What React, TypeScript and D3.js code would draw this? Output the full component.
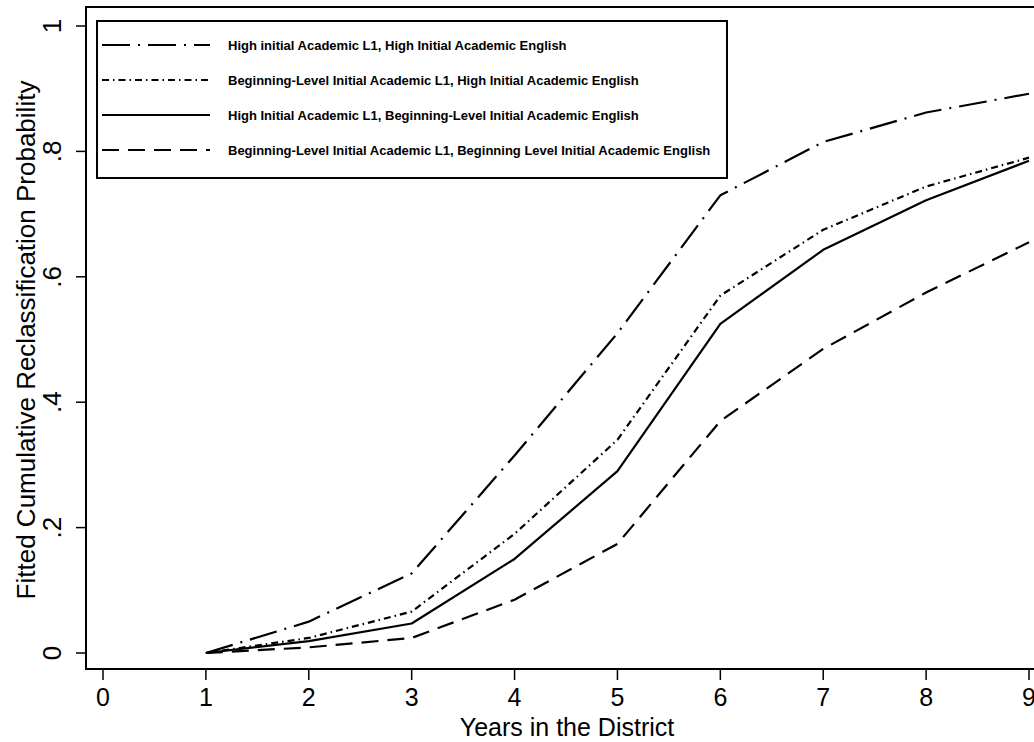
import React from 'react';
import * as d3 from 'd3';

const years = [1, 2, 3, 4, 5, 6, 7, 8, 9];
const highHigh = [0, 0.05, 0.127, 0.315, 0.51, 0.73, 0.815, 0.862, 0.892];
const begHigh = [0, 0.024, 0.066, 0.19, 0.34, 0.57, 0.675, 0.744, 0.79];
const highBeg = [0, 0.019, 0.047, 0.15, 0.29, 0.525, 0.643, 0.722, 0.785];
const begBeg = [0, 0.009, 0.024, 0.085, 0.174, 0.37, 0.485, 0.575, 0.655];

const legendLabels = [
  'High initial Academic L1, High Initial Academic English',
  'Beginning-Level Initial Academic L1, High Initial Academic English',
  'High Initial Academic L1, Beginning-Level Initial Academic English',
  'Beginning-Level Initial Academic L1, Beginning Level Initial Academic English',
];
const xTicks = [0, 1, 2, 3, 4, 5, 6, 7, 8, 9];
const yTicks = [0, 0.2, 0.4, 0.6, 0.8, 1];
const yTickLabels = ['0', '.2', '.4', '.6', '.8', '1'];

// long dash-dot, dash-dot, solid, dash
const dashes = ['28 8 2 8', '7 4 1.5 4', 'none', '17 9'];
const series = [highHigh, begHigh, highBeg, begBeg];

const W = 1034;
const H = 742;
const font = 'Liberation Sans, Arial, Helvetica, sans-serif';

export default function App() {
  const x = d3.scaleLinear().domain([0, 9]).range([103, 1029]);
  const y = d3.scaleLinear().domain([0, 1]).range([653, 26]);
  const frame = { left: 86, top: 7, right: 1045, bottom: 669 };

  const line = d3
    .line<number>()
    .x((_, i) => x(years[i]))
    .y((d) => y(d));

  const legendRows = [45, 80, 115, 150];

  return (
    <svg
      width={W}
      height={H}
      style={{ position: 'absolute', left: 0, top: 0, background: '#fff' }}
      fontFamily={font}
    >
      <rect x={0} y={0} width={W} height={H} fill="#fff" />

      {/* data lines */}
      {series.map((s, i) => (
        <path
          key={i}
          d={line(s) || ''}
          fill="none"
          stroke="#000"
          strokeWidth={2.2}
          strokeDasharray={dashes[i]}
          strokeLinejoin="round"
        />
      ))}

      {/* plot frame */}
      <rect
        x={frame.left}
        y={frame.top}
        width={frame.right - frame.left}
        height={frame.bottom - frame.top}
        fill="none"
        stroke="#000"
        strokeWidth={2}
      />

      {/* x axis */}
      {xTicks.map((t) => (
        <g key={t} transform={`translate(${x(t)},0)`}>
          <line y1={frame.bottom} y2={frame.bottom + 11} stroke="#000" strokeWidth={1.5} />
          <text y={frame.bottom + 37} textAnchor="middle" fontSize={25}>
            {t}
          </text>
        </g>
      ))}
      <text x={567} y={736} textAnchor="middle" fontSize={25}>
        Years in the District
      </text>

      {/* y axis */}
      {yTicks.map((t, i) => (
        <g key={t} transform={`translate(0,${y(t)})`}>
          <line x1={frame.left - 10} x2={frame.left} stroke="#000" strokeWidth={1.5} />
          <text
            transform={`translate(61,0) rotate(-90)`}
            textAnchor="middle"
            fontSize={26}
          >
            {yTickLabels[i]}
          </text>
        </g>
      ))}
      <text
        transform={`translate(35,340) rotate(-90)`}
        textAnchor="middle"
        fontSize={26}
      >
        Fitted Cumulative Reclassification Probability
      </text>

      {/* legend */}
      <rect x={97} y={21} width={630} height={157} fill="#fff" stroke="#000" strokeWidth={2} />
      {legendLabels.map((lab, i) => (
        <g key={lab}>
          <line
            x1={102}
            x2={210}
            y1={legendRows[i]}
            y2={legendRows[i]}
            stroke="#000"
            strokeWidth={2.2}
            strokeDasharray={dashes[i]}
          />
          <text x={228} y={legendRows[i] + 4.5} fontSize={13} fontWeight="bold">
            {lab}
          </text>
        </g>
      ))}
    </svg>
  );
}
